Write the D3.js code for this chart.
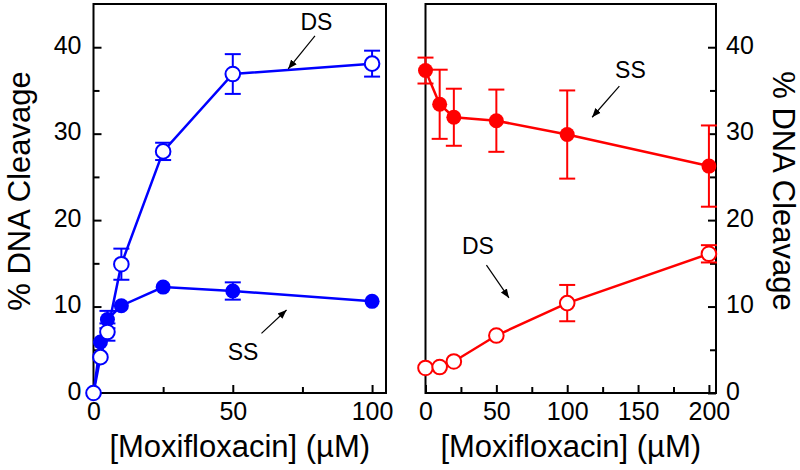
<!DOCTYPE html>
<html><head><meta charset="utf-8">
<script src="https://cdn.jsdelivr.net/npm/d3@7/dist/d3.min.js"></script>
<style>body{margin:0;background:#fff}svg{display:block}text{font-family:"Liberation Sans",Arial,sans-serif;fill:#000}</style>
</head><body><svg id="c" width="800" height="470"></svg>
<script>
// Left panel (blue)
const leftX = [0, 2.5, 5, 10, 25, 50, 100];
const leftDS = [0, 4.15, 7.05, 14.9, 27.95, 36.9, 38.1];
const leftDSerr = [0, 0, 1.0, 1.8, 1.0, 2.3, 1.5];
const leftSS = [0, 5.9, 8.5, 10.1, 12.25, 11.8, 10.6];
const leftSSerr = [0, 0, 1.0, 0, 0, 1.0, 0];
// Right panel (red)
const rightX = [0, 10, 20, 50, 100, 200];
const rightSS = [37.3, 33.4, 31.9, 31.5, 29.9, 26.25];
const rightSSerr = [1.5, 4.0, 3.3, 3.6, 5.1, 4.7];
const rightDS = [2.9, 3.0, 3.65, 6.65, 10.4, 16.1];
const rightDSerr = [0, 0, 0, 0, 2.1, 1.0];
// ticks
const yMajor = [0, 10, 20, 30, 40];
const yMinor = [5, 15, 25, 35];
const leftXMajor = [0, 50, 100];
const leftXMinor = [25, 75];
const rightXMajor = [0, 50, 100, 150, 200];
const rightXMinor = [25, 75, 125, 175];
const xTitle = "[Moxifloxacin] (\u00b5M)";
const yTitle = "% DNA Cleavage";
// annotations in data units: label, text pos, arrow from, arrow to
const leftNotes = [
  {t: "DS", tx: 80, ty: 42.9, x1: 79.5, y1: 41.3, x2: 69.9, y2: 37.5},
  {t: "SS", tx: 53.7, ty: 4.7, x1: 60.3, y1: 6.9, x2: 69.3, y2: 9.6}
];
const rightNotes = [
  {t: "SS", tx: 144.6, ty: 37.4, x1: 136.8, y1: 35.5, x2: 117.6, y2: 31.9},
  {t: "DS", tx: 37, ty: 17.0, x1: 43, y1: 14.8, x2: 58.9, y2: 11.0}
];

const svg = d3.select("#c");
svg.append("defs").append("marker").attr("id","ah").attr("viewBox","0 0 10 10")
  .attr("refX",10).attr("refY",5).attr("markerWidth",9).attr("markerHeight",9)
  .attr("markerUnits","userSpaceOnUse").attr("orient","auto")
  .append("path").attr("d","M0,1 L10,5 L0,9 z").attr("fill","#000");

function panel(opts){
  const {x, y, xs, series, color, xMajor, xMinor, side, notes} = opts;
  const g = svg.append("g");
  const [x0,x1] = x.range(), [y0,y1] = y.range();
  const fmt = d3.format("d");
  g.append("g").attr("transform",`translate(0,${y0})`)
    .call(d3.axisBottom(x).tickValues(xMajor).tickSize(-8).tickPadding(9).tickFormat(fmt));
  g.append("g").attr("transform",`translate(0,${y0})`)
    .call(d3.axisBottom(x).tickValues(xMinor).tickSize(-6).tickFormat(""));
  const yAxisF = side === "left" ? d3.axisLeft : d3.axisRight;
  const ya = g.append("g").attr("transform",`translate(${side==="left"?x0:x1},0)`)
    .call(yAxisF(y).tickValues(yMajor).tickSize(-8).tickPadding(side==="left"?12:10).tickFormat(fmt));
  ya.selectAll(".tick text").attr("dy","0.25em");
  g.append("g").attr("transform",`translate(${side==="left"?x0:x1},0)`)
    .call(yAxisF(y).tickValues(yMinor).tickSize(-6).tickFormat(""));
  g.selectAll(".domain").remove();
  g.selectAll(".tick line").attr("stroke","#000").attr("stroke-width",2);
  g.selectAll(".tick text").style("font-family",'"Liberation Sans",Arial,sans-serif').style("font-size","25px").attr("fill","#000");
  g.append("rect").attr("x",x0).attr("y",y1).attr("width",x1-x0).attr("height",y0-y1)
    .attr("fill","none").attr("stroke","#000").attr("stroke-width",2);
  g.append("text").attr("x",(x0+x1)/2).attr("y",457).attr("text-anchor","middle")
    .style("font-size","31px").text(xTitle);
  const tx = side==="left" ? 19 : 783;
  g.append("text").attr("transform",`translate(${tx},191) rotate(${side==="left"?-90:90})`)
    .attr("text-anchor","middle").attr("dominant-baseline","central").style("font-size","31px").text(yTitle);
  series.forEach(s=>{
    const pts = xs.map((v,i)=>({x:v,y:s.vals[i],e:s.err[i]}));
    g.append("path").datum(pts).attr("fill","none").attr("stroke",color).attr("stroke-width",2.5)
      .attr("d",d3.line().x(d=>x(d.x)).y(d=>y(d.y)));
    const eb = g.append("g").selectAll("g").data(pts.filter(d=>d.e>0)).join("g")
      .attr("stroke",color).attr("stroke-width",2);
    eb.append("line").attr("x1",d=>x(d.x)).attr("x2",d=>x(d.x)).attr("y1",d=>y(d.y+d.e)).attr("y2",d=>y(d.y-d.e));
    eb.append("line").attr("x1",d=>x(d.x)-8).attr("x2",d=>x(d.x)+8).attr("y1",d=>y(d.y+d.e)).attr("y2",d=>y(d.y+d.e));
    eb.append("line").attr("x1",d=>x(d.x)-8).attr("x2",d=>x(d.x)+8).attr("y1",d=>y(d.y-d.e)).attr("y2",d=>y(d.y-d.e));
    g.append("g").selectAll("circle").data(pts).join("circle")
      .attr("cx",d=>x(d.x)).attr("cy",d=>y(d.y)).attr("r",s.open?7.3:7.5)
      .attr("fill",s.open?"#fff":color).attr("stroke",color).attr("stroke-width",s.open?2:0);
  });
  notes.forEach(n=>{
    g.append("text").attr("x",x(n.tx)).attr("y",y(n.ty)).attr("text-anchor","middle")
      .attr("dominant-baseline","central").style("font-size","23px").text(n.t);
    g.append("line").attr("x1",x(n.x1)).attr("y1",y(n.y1)).attr("x2",x(n.x2)).attr("y2",y(n.y2))
      .attr("stroke","#000").attr("stroke-width",1.2).attr("marker-end","url(#ah)");
  });
}

const yL = d3.scaleLinear().domain([0,45]).range([393,4]);
panel({
  x: d3.scaleLinear().domain([0,105]).range([93.5,386]), y: yL, xs: leftX,
  series: [{vals:leftSS, err:leftSSerr, open:false},{vals:leftDS, err:leftDSerr, open:true}],
  color:"#0000ff", xMajor:leftXMajor, xMinor:leftXMinor, side:"left", notes:leftNotes
});
panel({
  x: d3.scaleLinear().domain([0,205]).range([425.5,716]), y: yL, xs: rightX,
  series: [{vals:rightSS, err:rightSSerr, open:false},{vals:rightDS, err:rightDSerr, open:true}],
  color:"#ff0000", xMajor:rightXMajor, xMinor:rightXMinor, side:"right", notes:rightNotes
});
</script></body></html>
